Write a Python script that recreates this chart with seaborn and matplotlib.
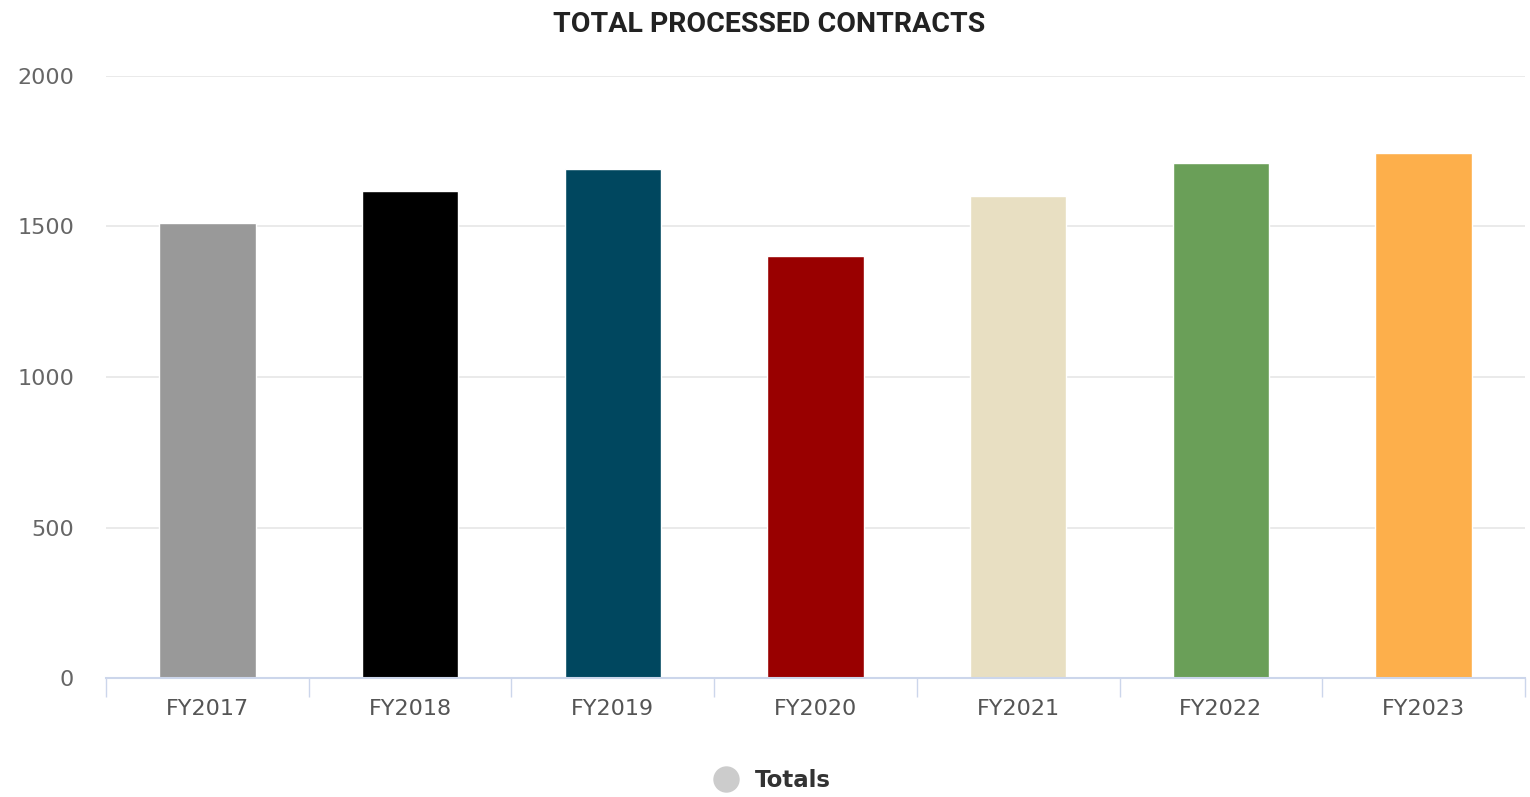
import matplotlib
matplotlib.use("Agg")
import matplotlib.pyplot as plt
from matplotlib.lines import Line2D
import seaborn as sns
import pandas as pd
import numpy as np

# Contract totals per fiscal year
years = ["FY2017", "FY2018", "FY2019", "FY2020", "FY2021", "FY2022", "FY2023"]
totals = [1510, 1618, 1689, 1402, 1601, 1710, 1745]
bar_colors = ["#999999", "#000000", "#00475F", "#990000", "#E8DFC2", "#6A9F58", "#FDAF4B"]
y_ticks = [0, 500, 1000, 1500, 2000]
series_name = "Totals"
title = "TOTAL PROCESSED CONTRACTS"

sns.set_theme(style="white")
plt.rcParams["font.family"] = ["DejaVu Sans"]

df = pd.DataFrame({"year": years, "total": totals})

fig = plt.figure(figsize=(15.3, 7.97), dpi=100)
ax = fig.add_axes([0.0693, 0.149, 0.9274, 0.756])

sns.barplot(data=df, x="year", y="total", hue="year", palette=bar_colors,
            width=0.475, legend=False, ax=ax, saturation=1, zorder=3)

ax.set_ylim(0, 2000)
ax.set_xlim(-0.5, len(years) - 0.5)
ax.set_yticks(y_ticks)
ax.set_yticklabels([str(v) for v in y_ticks])
ax.yaxis.grid(True, color="#e6e6e6", linewidth=1.2, zorder=0)
ax.xaxis.grid(False)
ax.set_axisbelow(True)

for side in ["top", "right", "left"]:
    ax.spines[side].set_visible(False)
ax.spines["bottom"].set_color("#ccd6eb")
ax.spines["bottom"].set_linewidth(1.5)
ax.spines["bottom"].set_zorder(4)

# category boundary ticks under the axis line
ax.set_xticks(np.arange(-0.5, len(years)), minor=True)
ax.tick_params(axis="x", which="minor", length=14, width=1, color="#ccd6eb", direction="out", bottom=True)
ax.tick_params(axis="x", which="major", length=0, pad=15, labelsize=16, labelcolor="#555555")
ax.tick_params(axis="y", length=0, pad=23, labelsize=16, labelcolor="#666666")

ax.set_xlabel("")
ax.set_ylabel("")

fig.text(0.503, 0.969, title, ha="center", va="center", fontsize=20.5,
         color="#222222", fontweight="bold",
         family=["Roboto", "DejaVu Sans"])

handle = Line2D([0], [0], marker="o", linestyle="", markersize=18,
                markerfacecolor="#cccccc", markeredgecolor="#cccccc")
fig.legend([handle], [series_name], loc="center", bbox_to_anchor=(0.505, 0.021),
           frameon=False, handletextpad=0.75, handlelength=1.0,
           prop={"size": 16.5, "weight": "bold"}, labelcolor="#333333")

fig.savefig("out.png", dpi=100, facecolor="white")
